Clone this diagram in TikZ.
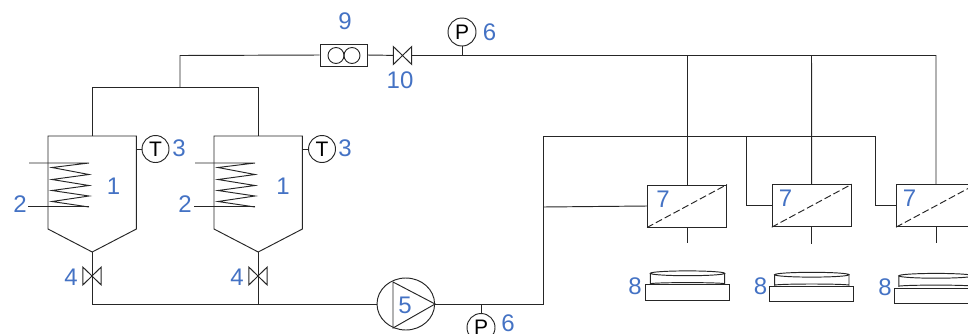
\documentclass[tikz,border=0pt]{standalone}
\usepackage{fontspec}
\setmainfont{Liberation Sans}
\usetikzlibrary{shapes.geometric,calc}
\definecolor{lbl}{HTML}{4472C4}
\definecolor{ln}{HTML}{262626}
\tikzset{
  pipe/.style={draw=ln,line width=0.95pt},
  thin pipe/.style={draw=ln,line width=0.95pt},
  lab/.style={text=lbl,inner sep=0pt,font=\fontsize{24}{24}\selectfont},
  gauge/.style={circle,draw=ln,line width=0.95pt,fill=white,minimum size=27pt,inner sep=0pt,font=\fontsize{21}{21}\selectfont,text=black},
  module/.style={rectangle,draw=ln,line width=0.95pt,minimum width=79pt,minimum height=42pt,inner sep=0pt},
  base/.style={rectangle,draw=ln,line width=0.95pt,minimum width=84pt,minimum height=15.5pt,inner sep=0pt},
  bowtie/.style={draw=ln,line width=0.95pt,fill=white},
}
\newcommand{\tankshape}[1]{%
  \draw[pipe] (#1) ++(-44,-116) -- ++(88.4,0) -- ++(0,93) -- ++(-44.2,23) -- ++(-44.2,-23) -- cycle;
}
\newcommand{\coilshape}[2]{% apex reference, left offset
  \draw[thin pipe] (#1) ++(-63,-89) -- ++(60,0)
    -- ++(-37,4.5) -- ++(37,7) -- ++(-37,5) -- ++(37,6) -- ++(-37,5) -- ++(37,5.5) -- ++(-37,5.5) -- ++(37,5.5);
  \draw[thin pipe] (#1) ++(-64,-46) -- ++(61,0);
}
\newcommand{\valveshape}[1]{%
  \draw[bowtie] (#1) ++(-9.2,-9) -- ++(18.4,18) -- ++(0,-18) -- ++(-18.4,18) -- cycle;
}
\newcommand{\diskshape}[1]{%
  \draw[thin pipe,fill=white] (#1) ++(-37.2,0) -- ++(0,10.5) arc[start angle=180,end angle=360,x radius=37.2,y radius=1.2] -- ++(0,-10.5);
  \draw[thin pipe,fill=white] (#1) ellipse[x radius=37.2,y radius=2.4];
}
\begin{document}
\begin{tikzpicture}[x=1pt,y=-1pt]
\useasboundingbox (0,0) rectangle (968,333);
\clip (0,0) rectangle (968,333);
% junctions
\coordinate (a1) at (92,252);
\coordinate (a2) at (258,252);
\coordinate (t1) at (92,136);
\coordinate (t2) at (258,136);
\coordinate (h1) at (92,87);
\coordinate (h2) at (258,87);
\coordinate (hm) at (180,87);
\coordinate (ht) at (180,55.5);
\coordinate (b1) at (92,304);
\coordinate (b2) at (258,304);
\coordinate (v1) at (92,276);
\coordinate (v2) at (258,276);
\coordinate (c1) at (543,304);
\coordinate (c2) at (543,136);
\coordinate (m1) at (543,207);
\coordinate (e1) at (936,55.5);
\coordinate (d1) at (687,55.5);
\coordinate (d2) at (811.5,55.5);
\coordinate (r1) at (746,136);
\coordinate (r2) at (875,136);
\coordinate (j6) at (462,55.5);
\coordinate (j7) at (481,304);
% equipment nodes
\node[rectangle,draw=ln,line width=0.95pt,minimum width=47pt,minimum height=22pt,inner sep=0pt] (f9) at (343.5,55) {};
\node[circle,draw=ln,line width=0.9pt,minimum size=16pt,inner sep=0pt] (f9a) at (336,55.5) {};
\node[circle,draw=ln,line width=0.9pt,minimum size=16pt,inner sep=0pt] (f9b) at (352,55.5) {};
\coordinate (v10) at (402.5,55.5);
\node[gauge,minimum size=28pt] (p1) at (462,32) {P};
\node[gauge,minimum size=28pt] (p2) at (481,327.5) {P};
\node[gauge] (t3a) at (155.5,149) {T};
\node[gauge] (t3b) at (322,149) {T};
\node[module] (m7a) at (687,206) {};
\node[module] (m7b) at (811.7,205.7) {};
\node[module] (m7c) at (936,205.7) {};
\node[ellipse,draw=ln,line width=0.95pt,minimum width=57.6pt,minimum height=52pt,inner sep=0pt] (pump) at (405.8,304) {};
\node[base] (b8a) at (687,292.6) {};
\node[base] (b8b) at (811.8,293.8) {};
\node[base] (b8c) at (936,296) {};
\coordinate (s7a) at (687,243);
\coordinate (s7b) at (811.7,244);
\coordinate (s7c) at (936,243);
% pipes
\draw[pipe] (t1) -- (h1) -- (h2) -- (t2);
\draw[pipe] (hm) -- (ht) -- (f9.west);
\draw[pipe] (f9.east) -- (v10) -- (e1) -- (m7c.north);
\draw[pipe] (j6) -- (p1.south);
\draw[pipe] (d1) -- (m7a.north);
\draw[pipe] (d2) -- (m7b.north);
\draw[pipe] (a1) -- (b1) -- (pump.west);
\draw[pipe] (a2) -- (b2);
\draw[pipe] (pump.east) -- (c1) -- (c2) -- (r2);
\draw[pipe] (j7) -- (p2.north);
\draw[pipe] (m1) -- (m7a.west);
\draw[pipe] (r1) -- (r1 |- m7b.west) -- (m7b.west);
\draw[pipe] (r2) -- (r2 |- m7c.west) -- (m7c.west);
\draw[pipe] (m7a.south) -- (s7a);
\draw[pipe] (m7b.south) -- (s7b);
\draw[pipe] (m7c.south) -- (s7c);
\draw[pipe] (136.5,149) -- (t3a.west);
\draw[pipe] (302.4,149) -- (t3b.west);
% shapes
\tankshape{a1}
\tankshape{a2}
\coilshape{a1}{}
\coilshape{a2}{}
\valveshape{v1}
\draw[pipe] (258,267) -- (258,285);
\draw[draw=ln,line width=0.95pt] (v2) ++(-9.2,-9) -- ++(18.4,18) -- ++(0,-18) -- ++(-18.4,18) -- cycle;
\valveshape{v10}
\draw[draw=ln,line width=0.95pt] (pump.west -| 393,0) ++(0,-22) -- ++(0,46) -- (pump.east) -- cycle;
\draw[draw=ln,dash pattern=on 7pt off 3pt,line width=0.95pt] (m7a.south west) -- (m7a.north east);
\draw[draw=ln,dash pattern=on 7pt off 3pt,line width=0.95pt] (m7b.south west) -- (m7b.north east);
\draw[draw=ln,dash pattern=on 7pt off 3pt,line width=0.95pt] (m7c.south west) -- (m7c.north east);
\coordinate (k1) at (687.5,273.3);
\coordinate (k2) at (811.8,274.7);
\coordinate (k3) at (936,275.8);
\diskshape{k1}
\diskshape{k2}
\diskshape{k3}
% labels
\node[lab] (l1a) at (113.5,186) {1};
\node[lab] (l1b) at (283,186) {1};
\node[lab] (l2a) at (20,204) {2};
\node[lab] (l2b) at (185,204) {2};
\node[lab] (l3a) at (179,148) {3};
\node[lab] (l3b) at (345,148) {3};
\node[lab] (l4a) at (71,277) {4};
\node[lab] (l4b) at (237,277) {4};
\node[lab] (l5) at (405,305) {5};
\node[lab] (l6a) at (489.5,32) {6};
\node[lab] (l6b) at (508,323.5) {6};
\node[lab] (l7a) at (663,199.5) {7};
\node[lab] (l7b) at (785.5,198) {7};
\node[lab] (l7c) at (909.5,198) {7};
\node[lab] (l8a) at (635,286.5) {8};
\node[lab] (l8b) at (760.5,286) {8};
\node[lab] (l8c) at (885,287) {8};
\node[lab] (l9) at (345,21) {9};
\node[lab] (l10) at (400,80) {10};
\end{tikzpicture}
\end{document}
